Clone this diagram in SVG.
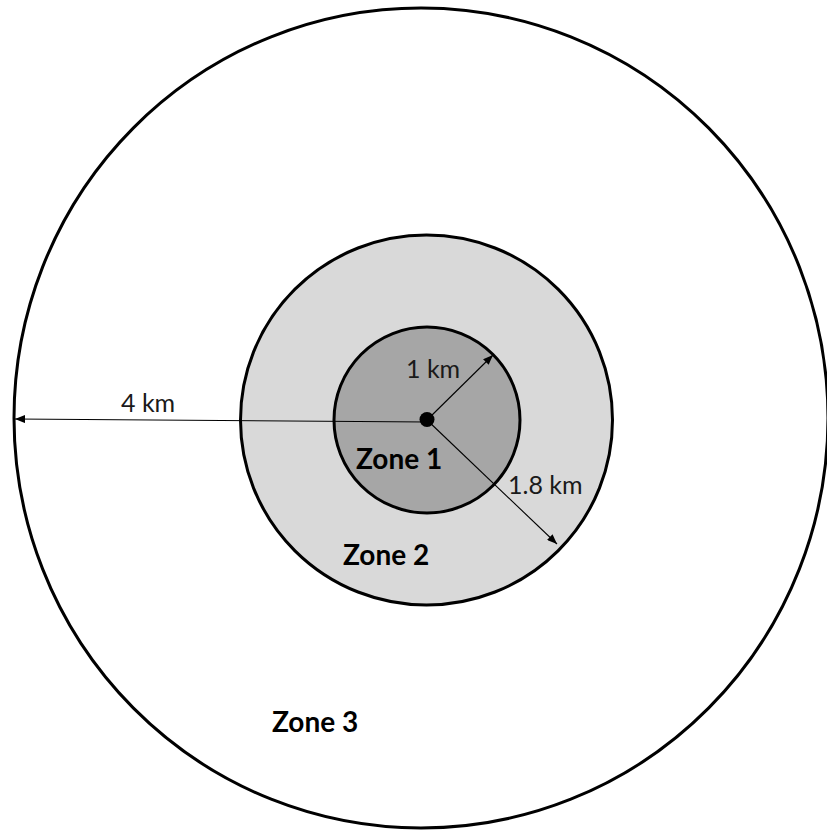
<svg xmlns="http://www.w3.org/2000/svg" width="827" height="830" viewBox="0 0 827 830">
<style>
.ring{stroke:#000;stroke-width:3}
.lbl{font-family:Lato,"Liberation Sans",sans-serif;font-size:25px;fill:#1a1a1a}
.zone{font-family:Lato,"Liberation Sans",sans-serif;font-size:28px;font-weight:bold;fill:#000}
.dim{stroke:#000;stroke-width:1.1;fill:none;marker-end:url(#ah)}
</style>
<defs>
<marker id="ah" viewBox="0 0 10 8" refX="10" refY="4" markerWidth="10" markerHeight="8" markerUnits="userSpaceOnUse" orient="auto">
<path d="M0,0 L10,4 L0,8 Z" fill="#000"/>
</marker>
</defs>
<rect width="827" height="830" fill="#fff"/>
<g id="zone3">
<ellipse class="ring" cx="421" cy="418" rx="407" ry="410" fill="#fff"/>
<text class="zone" x="272" y="732">Zone 3</text>
</g>
<g id="zone2">
<ellipse class="ring" cx="426.5" cy="420" rx="186" ry="185" fill="#d9d9d9"/>
<text class="zone" x="343" y="565">Zone 2</text>
</g>
<g id="zone1">
<circle class="ring" cx="427" cy="420" r="93" fill="#a6a6a6"/>
<text class="zone" x="356" y="469">Zone 1</text>
</g>
<g id="connectors">
<line class="dim" x1="427" y1="422" x2="15" y2="419"/>
<line class="dim" x1="427" y1="420" x2="493" y2="355"/>
<line class="dim" x1="427" y1="420" x2="557" y2="544"/>
</g>
<g id="center">
<circle cx="427" cy="419.5" r="7.5" fill="#000"/>
</g>
<g id="labels">
<text class="lbl" x="121" y="412">4 km</text>
<text class="lbl" x="406" y="378">1 km</text>
<text class="lbl" x="508" y="494">1.8 km</text>
</g>
</svg>
